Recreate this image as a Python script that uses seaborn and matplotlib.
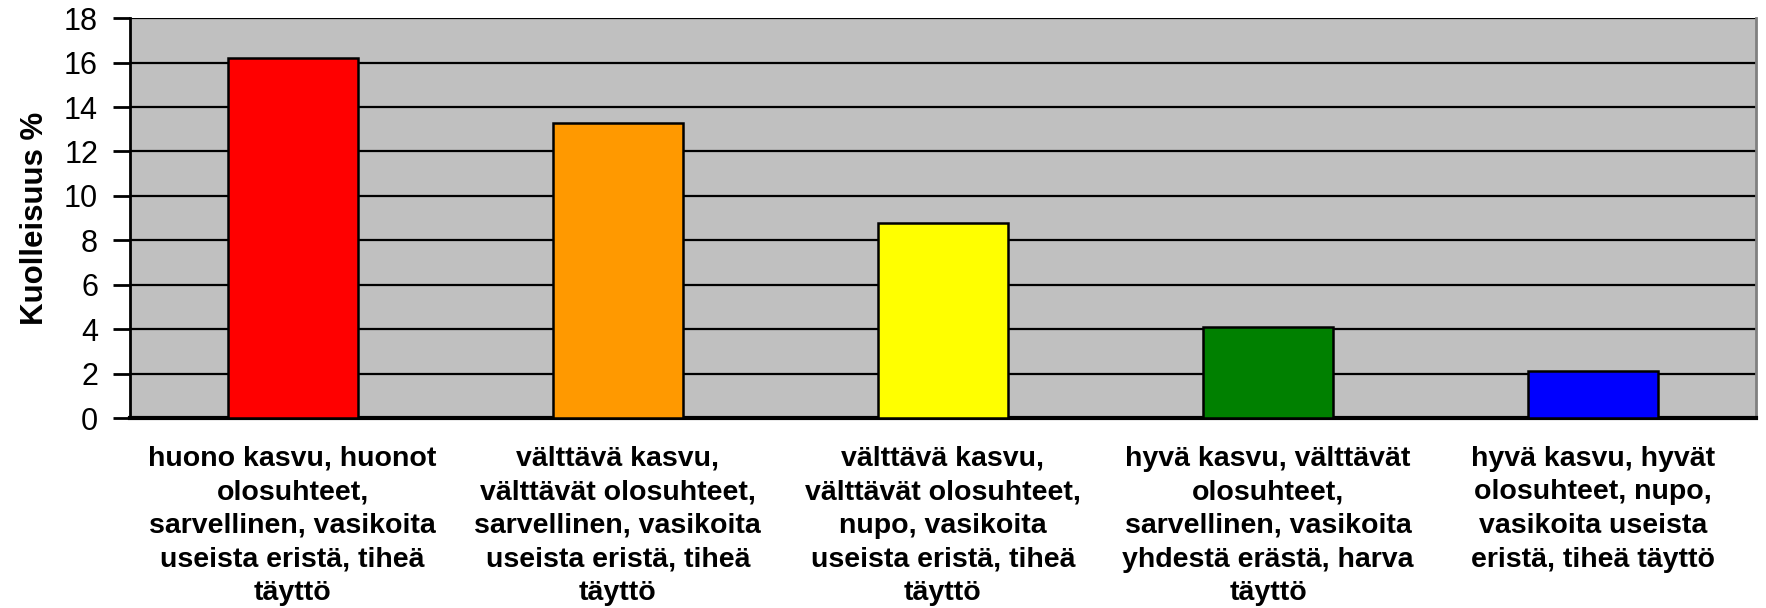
import matplotlib
matplotlib.use('Agg')
import matplotlib.pyplot as plt
import pandas as pd
import seaborn as sns

# Data
categories = [
    'huono kasvu, huonot\nolosuhteet,\nsarvellinen, vasikoita\nuseista eristä, tiheä\ntäyttö',
    'välttävä kasvu,\nvälttävät olosuhteet,\nsarvellinen, vasikoita\nuseista eristä, tiheä\ntäyttö',
    'välttävä kasvu,\nvälttävät olosuhteet,\nnupo, vasikoita\nuseista eristä, tiheä\ntäyttö',
    'hyvä kasvu, välttävät\nolosuhteet,\nsarvellinen, vasikoita\nyhdestä erästä, harva\ntäyttö',
    'hyvä kasvu, hyvät\nolosuhteet, nupo,\nvasikoita useista\neristä, tiheä täyttö',
]
mortality = [16.2, 13.3, 8.8, 4.1, 2.1]
colors = ['#FF0000', '#FF9900', '#FFFF00', '#008000', '#0000FF']
y_ticks = [0, 2, 4, 6, 8, 10, 12, 14, 16, 18]

df = pd.DataFrame({'cat': categories, 'val': mortality})

sns.set_style('white')
plt.rcParams['font.family'] = ['Liberation Sans', 'DejaVu Sans']
plt.rcParams['text.color'] = 'black'
plt.rcParams['axes.labelcolor'] = 'black'
plt.rcParams['xtick.color'] = 'black'
plt.rcParams['ytick.color'] = 'black'

fig = plt.figure(figsize=(17.66, 6.08), dpi=100)
ax = fig.add_axes([0.0736, 0.3125, 0.9207, 0.6575])
ax.set_facecolor('#C0C0C0')

sns.barplot(data=df, x='cat', y='val', hue='cat', palette=colors, legend=False,
            width=0.4, edgecolor='black', linewidth=1.8, saturation=1, ax=ax, zorder=3)

ax.set_ylim(0, 18)
ax.set_xlim(-0.5, 4.5)
ax.set_yticks(y_ticks)
ax.yaxis.grid(True, color='black', linewidth=1.6, zorder=0)
ax.set_axisbelow(True)

# Category boundaries get the tick marks, labels sit in the middle
ax.set_xticks([i - 0.5 for i in range(6)], minor=True)
ax.tick_params(axis='x', which='minor', length=7, width=2.5, color='black', direction='out')
ax.tick_params(axis='x', which='major', length=0, pad=20)
ax.set_xticklabels(categories, fontsize=20.5, fontweight='bold', linespacing=1.38)
ax.tick_params(axis='y', length=12, width=2, color='black', direction='out',
               left=True, labelsize=22, pad=11)

ax.set_xlabel('')
ax.set_ylabel('Kuolleisuus %', fontsize=22.5, fontweight='bold', labelpad=10)

for side in ['left', 'bottom']:
    ax.spines[side].set_color('black')
ax.spines['left'].set_linewidth(2)
ax.spines['bottom'].set_linewidth(3)
ax.spines['top'].set_visible(False)
ax.spines['right'].set_color('#808080')
ax.spines['right'].set_linewidth(2)

fig.savefig('out.png', dpi=100)
